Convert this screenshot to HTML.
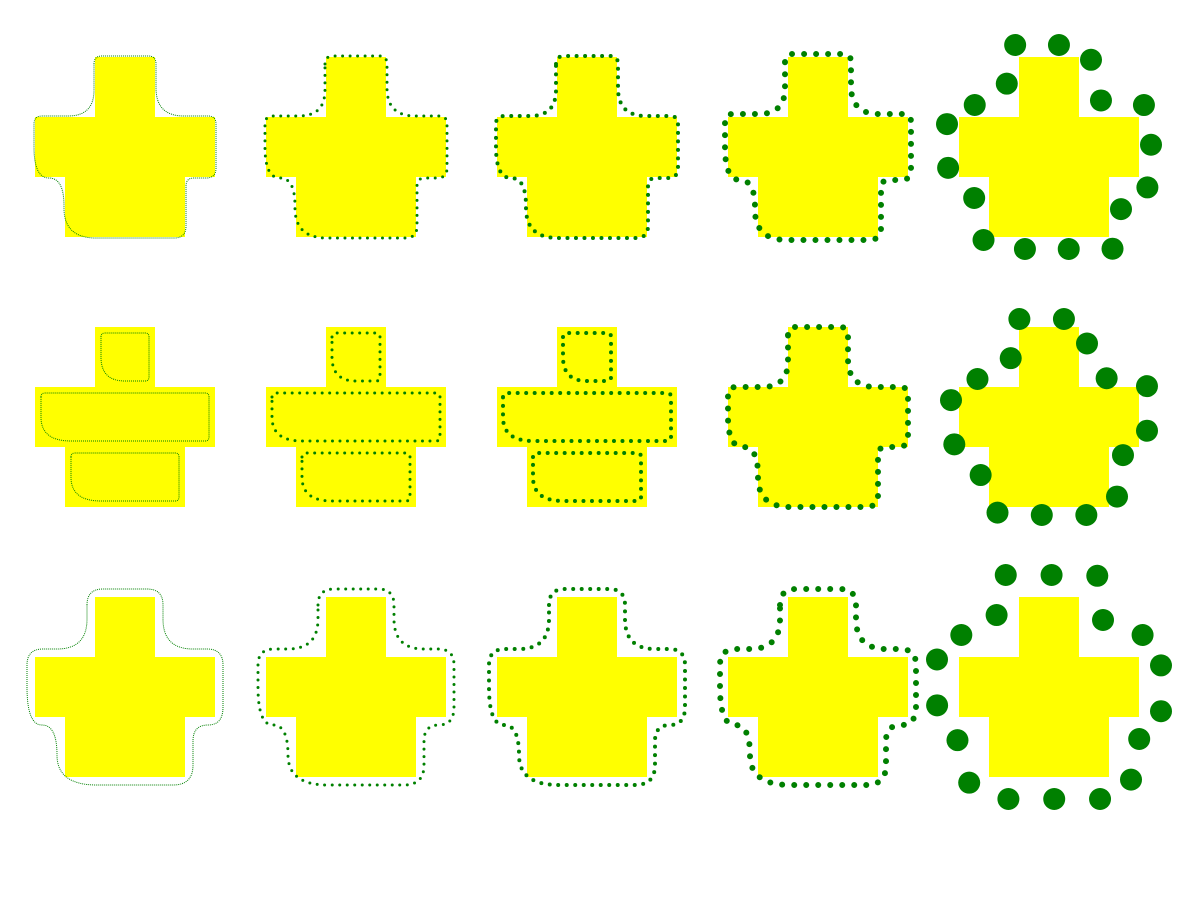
<!DOCTYPE html>
<html><head><meta charset="utf-8"><style>html,body{margin:0;background:#fff}svg{display:block}</style></head>
<body>
<svg id="s" width="1200" height="900"></svg>
<script>
const cols=[35,266,497,728,959];
const rows=[57,327,597];
const widths=[1,3,4,6,22];
const gaps=[2,7.5,8.5,12,45];
const poly=[[60,0],[120,0],[120,60],[180,60],[180,120],[150,120],[150,180],[30,180],[30,120],[0,120],[0,60],[60,60]];
const radii=[8,8,28,8,10,8,12,32,28,40,8,26];
const NS='http://www.w3.org/2000/svg';
const svg=document.getElementById('s');
function offsetPoly(p,d){
  const n=p.length,out=[];
  for(let i=0;i<n;i++){
    const a=p[(i-1+n)%n],b=p[i],c=p[(i+1)%n];
    const e1=[b[0]-a[0],b[1]-a[1]],e2=[c[0]-b[0],c[1]-b[1]];
    const l1=Math.hypot(...e1),l2=Math.hypot(...e2);
    const n1=[e1[1]/l1,-e1[0]/l1],n2=[e2[1]/l2,-e2[0]/l2];
    out.push([b[0]+d*(n1[0]+n2[0]),b[1]+d*(n1[1]+n2[1])]);
  }
  return out;
}
function rounded(p,rs,x0,y0,extra){
  extra=extra||0;
  const n=p.length;let d='';
  for(let i=0;i<n;i++){
    const a=p[(i-1+n)%n],b=p[i],c=p[(i+1)%n];
    const r=rs[i%rs.length]+extra;
    const l1=Math.hypot(b[0]-a[0],b[1]-a[1]),l2=Math.hypot(c[0]-b[0],c[1]-b[1]);
    const r1=Math.min(r,l1/2),r2=Math.min(r,l2/2);
    const p1=[b[0]-(b[0]-a[0])*r1/l1,b[1]-(b[1]-a[1])*r1/l1];
    const p2=[b[0]+(c[0]-b[0])*r2/l2,b[1]+(c[1]-b[1])*r2/l2];
    d+=(i?'L':'M')+(x0+p1[0])+','+(y0+p1[1])+'Q'+(x0+b[0])+','+(y0+b[1])+' '+(x0+p2[0])+','+(y0+p2[1]);
  }
  return d+'Z';
}
function add(tag,attrs){const e=document.createElementNS(NS,tag);for(const k in attrs)e.setAttribute(k,attrs[k]);svg.appendChild(e);return e;}
rows.forEach((y0,ri)=>{
  cols.forEach((x0,ci)=>{
    const cross=add('path',{d:'M'+poly.map(q=>(x0+q[0])+','+(y0+q[1])).join('L')+'Z',fill:'#ffff00'});
    
    
    const st={fill:'none',stroke:'#008000','stroke-width':widths[ci],'stroke-linecap':'round','stroke-dasharray':'0 '+gaps[ci]};
    if(ci===0){st['stroke-dasharray']='1 1';st['stroke-linecap']='butt';}
    let paths=[];
    if(ri===1&&ci<3){
      paths.push(rounded([[66,6],[114,6],[114,54],[66,54]],[4,4,4,30],x0,y0));
      paths.push(rounded([[6,66],[174,66],[174,114],[6,114]],[4,4,4,30],x0,y0));
      paths.push(rounded([[36,126],[144,126],[144,174],[36,174]],[4,4,4,30],x0,y0));
    }else if(ci===4){
      const off=[12,8,22][ri];
      const tmp=add('path',{d:rounded(offsetPoly(poly,off),radii,x0,y0),fill:'none',stroke:'none'});
      const L=tmp.getTotalLength();
      const n=Math.round(L/45);
      for(let k=0;k<n;k++){
        const pt=tmp.getPointAtLength((k+0.3)*L/n);
        const c=add('circle',{cx:pt.x,cy:pt.y,r:11,fill:'#008000'});
        
        
      }
      tmp.remove();
    }else{
      const off=ri===2?8:(ci===3?(ri===1?0:3):1);
      paths.push(rounded(offsetPoly(poly,off),radii,x0,y0,ri===2?8:0));
    }
    paths.forEach(d=>{
      const p=add('path',Object.assign({d:d},st));
      
      
    });
  });
});
</script>
</body></html>
